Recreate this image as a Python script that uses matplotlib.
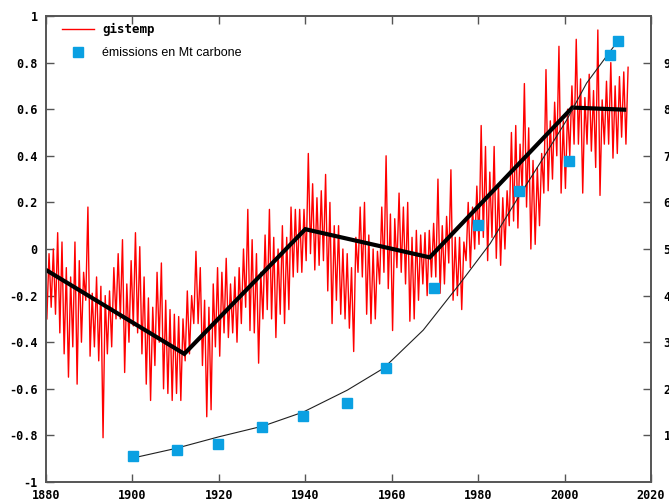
import matplotlib
matplotlib.use("Agg")
import matplotlib.pyplot as plt
from matplotlib.lines import Line2D
import numpy as np

# ---------------- data ----------------
years = list(range(1880, 2015))
# yearly upper / lower envelope of the monthly GISTEMP anomaly trace (°C)
temp_hi = [-0.02, 0.00, 0.07, 0.03, -0.08, -0.12, 0.03, -0.05, -0.10, 0.18,
           -0.19, -0.12, -0.16, -0.20, -0.18, -0.08, -0.02, 0.04, -0.15, -0.05,
           0.07, 0.01, -0.12, -0.21, -0.25, -0.10, -0.06, -0.22, -0.26, -0.28,
           -0.29, -0.30, -0.18, -0.20, -0.01, -0.08, -0.22, -0.25, -0.15, -0.08,
           -0.10, -0.04, -0.15, -0.12, -0.08, 0.00, 0.17, 0.04, -0.02, -0.10,
           0.06, 0.17, 0.05, 0.00, 0.10, 0.05, 0.18, 0.17, 0.17, 0.17,
           0.41, 0.28, 0.22, 0.25, 0.32, 0.20, 0.10, 0.10, 0.00, -0.02,
           -0.08, 0.05, 0.18, 0.20, 0.06, 0.00, -0.01, 0.18, 0.40, 0.15,
           0.13, 0.24, 0.18, 0.20, 0.05, 0.08, 0.06, 0.07, 0.08, 0.11,
           0.30, 0.10, 0.14, 0.34, 0.05, 0.05, 0.03, 0.20, 0.18, 0.27,
           0.53, 0.44, 0.33, 0.44, 0.28, 0.22, 0.25, 0.50, 0.53, 0.45,
           0.71, 0.52, 0.38, 0.35, 0.41, 0.77, 0.55, 0.63, 0.87, 0.55,
           0.60, 0.70, 0.90, 0.73, 0.65, 0.75, 0.68, 0.94, 0.64, 0.72,
           0.80, 0.70, 0.74, 0.76, 0.78]
temp_lo = [-0.30, -0.25, -0.28, -0.36, -0.45, -0.55, -0.42, -0.58, -0.40, -0.22,
           -0.46, -0.42, -0.48, -0.81, -0.45, -0.42, -0.30, -0.30, -0.53, -0.40,
           -0.33, -0.36, -0.45, -0.58, -0.65, -0.50, -0.40, -0.60, -0.62, -0.65,
           -0.62, -0.65, -0.48, -0.45, -0.32, -0.32, -0.50, -0.72, -0.69, -0.42,
           -0.46, -0.36, -0.38, -0.36, -0.40, -0.32, -0.25, -0.35, -0.36, -0.49,
           -0.30, -0.26, -0.30, -0.38, -0.28, -0.32, -0.26, -0.12, -0.10, -0.10,
           -0.05, -0.02, -0.09, -0.07, -0.05, -0.18, -0.32, -0.22, -0.28, -0.30,
           -0.34, -0.44, -0.10, -0.12, -0.28, -0.32, -0.30, -0.15, -0.10, -0.17,
           -0.35, -0.08, -0.10, -0.15, -0.31, -0.30, -0.22, -0.15, -0.20, -0.12,
           -0.12, -0.19, -0.15, -0.06, -0.22, -0.20, -0.26, -0.05, -0.08, 0.00,
           0.02, 0.05, -0.05, 0.05, -0.04, -0.07, 0.00, 0.10, 0.12, 0.09,
           0.24, 0.18, 0.00, 0.02, 0.10, 0.24, 0.25, 0.30, 0.40, 0.24,
           0.26, 0.40, 0.45, 0.45, 0.24, 0.45, 0.42, 0.35, 0.23, 0.45,
           0.45, 0.39, 0.41, 0.48, 0.45]

# piecewise-linear trend of the temperature (thick black line)
trend_years = [1880, 1912, 1940, 1968.8, 2001.8, 2013.8]
trend_vals = [-0.09, -0.45, 0.085, -0.036, 0.607, 0.598]

# carbon emissions (right axis)
emis_years = [1900.2, 1910.4, 1919.9, 1930.0, 1939.5, 1949.6, 1958.7,
              1969.8, 1980.0, 1989.4, 2001.1, 2010.5, 2012.4]
emis_vals = [0.56, 0.69, 0.82, 1.17, 1.42, 1.69, 2.44,
             4.17, 5.52, 6.24, 6.88, 9.16, 9.46]

# thin fitted curve through the emissions (right axis)
fit_years = [1899.4, 1910, 1920, 1930.2, 1939.5, 1949.7, 1958.1, 1967.3,
             1975.8, 1982.8, 1988.9, 1994.3, 2000.5, 2005.1, 2012.3]
fit_vals = [0.50, 0.72, 0.97, 1.20, 1.50, 1.97, 2.44, 3.26,
            4.26, 5.12, 6.05, 6.84, 7.77, 8.56, 9.46]

x_ticks = [1880, 1900, 1920, 1940, 1960, 1980, 2000, 2020]
y_ticks = [-1, -0.8, -0.6, -0.4, -0.2, 0, 0.2, 0.4, 0.6, 0.8, 1]
y_labels = ["-1", "-0.8", "-0.6", "-0.4", "-0.2", "0", "0.2", "0.4", "0.6", "0.8", "1"]
y2_ticks = [1, 2, 3, 4, 5, 6, 7, 8, 9]

# ---------------- figure ----------------
W, H = 669, 501
fig = plt.figure(figsize=(W / 100, H / 100), dpi=100)
ax = fig.add_axes([46 / W, 19 / H, 605 / W, 466 / H])
ax2 = ax.twinx()

mono = dict(family="DejaVu Sans Mono", weight="bold", size=8.5)

# red monthly-like trace: lower / upper value of each year, alternated
yrs = np.asarray(years, dtype=float)
tx = np.column_stack([yrs + 0.2, yrs + 0.7]).ravel()
ty = np.column_stack([temp_lo, temp_hi]).ravel()
ax.plot(tx, ty, color="#ff0000", lw=1.0, zorder=2)

ax.plot(trend_years, trend_vals, color="black", lw=3.0, zorder=4,
        solid_joinstyle="miter")

ax2.plot(fit_years, fit_vals, color="#202020", lw=0.8, zorder=3)
ax2.plot(emis_years, emis_vals, ls="none", marker="s", ms=7,
         color="#0aa0e2", mec="#0aa0e2", zorder=5)

ax.set_xlim(1880, 2020)
ax.set_ylim(-1, 1)
ax2.set_ylim(0, 10)

ax.set_xticks(x_ticks)
ax.set_xticklabels([str(v) for v in x_ticks], fontdict=mono)
ax.set_yticks(y_ticks)
ax.set_yticklabels(y_labels, fontdict=mono)
ax2.set_yticks(y2_ticks)
ax2.set_yticklabels([str(v) for v in y2_ticks], fontdict=mono)

ax.tick_params(axis="both", direction="in", length=6, width=1,
               color="#555555", top=True, right=False)
ax.tick_params(axis="x", pad=5)
ax.tick_params(axis="y", pad=6)
ax2.tick_params(axis="y", direction="in", length=6, width=1,
                color="#555555", pad=9)

for a in (ax, ax2):
    for s in a.spines.values():
        s.set_color("#555555")
        s.set_linewidth(1.2)

ax2.set_zorder(ax.get_zorder() + 1)
ax2.patch.set_visible(False)

handles = [Line2D([], [], color="#ff0000", lw=1.0),
           Line2D([], [], ls="none", marker="s", ms=7, color="#0aa0e2")]
leg = ax.legend(handles, ["gistemp", "émissions en Mt carbone"],
                loc="upper left", bbox_to_anchor=(0.016, 0.998),
                frameon=False, borderpad=0, handlelength=2.6,
                handletextpad=0.6, labelspacing=0.85, prop=dict(size=9))
t0, t1 = leg.get_texts()
t0.set_fontfamily("DejaVu Sans Mono")
t0.set_fontweight("bold")
t0.set_fontsize(9)
t1.set_fontfamily("Liberation Sans")
t1.set_fontsize(9)
leg.set_zorder(10)

fig.savefig("out.png", dpi=100)
